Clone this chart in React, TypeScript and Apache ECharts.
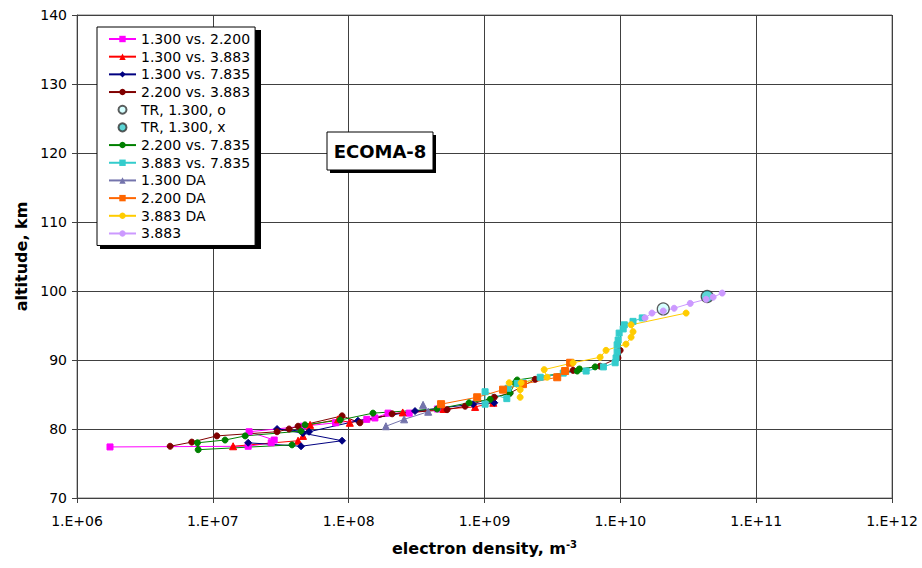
import React, { useEffect, useRef } from "react";
import * as echarts from "echarts";

// [electron density (m^-3), altitude (km)]
const s1300vs2200 = [
  [4.5e8, 82.9], [2.79e8, 82.3], [1.95e8, 82.3], [1.56e8, 81.6], [1.36e8, 81.4],
  [8.0e7, 80.9], [4.6e7, 80.4], [1.85e7, 79.6], [2.83e7, 78.4], [2.69e7, 78.0],
  [1.82e7, 77.5], [1.75e6, 77.4],
];
const s1300vs3883 = [
  [1.16e9, 83.8], [8.53e8, 83.2], [5.0e8, 82.9], [2.5e8, 82.4], [1.02e8, 80.9],
  [8.36e7, 81.4], [5.2e7, 80.6], [4.61e7, 79.0], [4.24e7, 78.3], [1.41e7, 77.5],
];
const s1300vs7835 = [
  [1.18e9, 83.8], [8.24e8, 83.6], [3.08e8, 82.6], [1.17e8, 81.2], [5.11e7, 79.6],
  [2.97e7, 80.0], [4.6e7, 79.4], [8.94e7, 78.3], [4.46e7, 77.5], [1.82e7, 78.0],
];
const s2200vs3883 = [
  [9.97e9, 91.4], [9.6e9, 90.3], [7.1e9, 89.1], [4.49e9, 88.5], [2.36e9, 87.2],
  [1.54e9, 85.2], [1.18e9, 84.6], [7.2e8, 83.3], [5.3e8, 82.8], [2.09e8, 82.2],
  [1.21e8, 80.9], [8.94e7, 81.9], [4.24e7, 80.4], [3.64e7, 80.0], [2.97e7, 79.6],
  [1.07e7, 79.0], [7.0e6, 78.1], [4.85e6, 77.5],
];
const trO = [[2.07e10, 97.4]];
const trX = [[4.36e10, 99.2]];
const s2200vs7835 = [
  [6.52e9, 89.0], [5.0e9, 88.7], [4.81e9, 88.4], [1.74e9, 87.1], [1.68e9, 86.7],
  [1.54e9, 85.2], [1.1e9, 84.3], [7.7e8, 83.8], [4.48e8, 82.9], [1.51e8, 82.3],
  [8.65e7, 81.3], [4.77e7, 80.6], [4.46e7, 79.7], [1.73e7, 79.0], [1.23e7, 78.4],
  [7.7e6, 78.0], [7.8e6, 77.0], [3.83e7, 77.7],
];
const s3883vs7835 = [
  [1.45e10, 96.1], [1.24e10, 95.6], [1.07e10, 95.1], [1.05e10, 94.5], [9.8e9, 93.9],
  [9.64e9, 92.9], [9.47e9, 92.2], [9.47e9, 91.2], [9.3e9, 90.3], [9.16e9, 89.6],
  [7.5e9, 89.0], [5.6e9, 88.4], [3.8e9, 88.1], [2.57e9, 87.5], [1.92e9, 86.7],
  [1.74e9, 86.6], [1.49e9, 85.9], [1.46e9, 84.4], [1.01e9, 85.4], [1.01e9, 83.6],
];
const s1300DA = [[1.88e8, 80.4], [2.56e8, 81.4], [3.85e8, 82.5], [3.53e8, 83.5]];
const s2200DA = [
  [4.27e9, 89.6], [3.92e9, 88.4], [3.43e9, 87.5], [1.92e9, 86.5], [1.37e9, 85.7],
  [8.83e8, 84.6], [4.79e8, 83.6],
];
const s3883DA = [
  [3.05e10, 96.8], [1.2e10, 95.1], [1.24e10, 94.1], [1.2e10, 93.3], [1.1e10, 92.3],
  [7.85e9, 91.4], [7.1e9, 90.4], [4.49e9, 89.6], [2.75e9, 88.6], [2.89e9, 87.5],
  [1.86e9, 86.7], [1.52e9, 86.7], [1.83e9, 85.7], [1.83e9, 84.6],
];
const s3883 = [
  [1.52e10, 96.1], [1.71e10, 96.8], [2.07e10, 97.1], [2.49e10, 97.5], [3.27e10, 98.2],
  [4.28e10, 98.8], [4.82e10, 99.1], [5.62e10, 99.7],
];

const seriesNames = [
  "1.300 vs. 2.200", "1.300 vs. 3.883", "1.300 vs. 7.835", "2.200 vs. 3.883",
  "TR, 1.300, o", "TR, 1.300, x", "2.200 vs. 7.835", "3.883 vs. 7.835",
  "1.300 DA", "2.200 DA", "3.883 DA", "3.883",
];

const FONT = "DejaVu Sans";

function lineSeries(name: string, data: number[][], color: string, symbol: string, size: number) {
  return {
    name,
    type: "line",
    data,
    symbol,
    symbolSize: size,
    showSymbol: true,
    itemStyle: { color, borderColor: color },
    lineStyle: { color, width: 1 },
    z: 2,
  };
}

function trSeries(name: string, data: number[][], fill: string) {
  return {
    name,
    type: "scatter",
    data,
    symbol: "circle",
    symbolSize: 12,
    itemStyle: { color: fill, borderColor: "#333", borderWidth: 1.2 },
    z: 2,
  };
}

export default function App() {
  const ref = useRef<HTMLDivElement>(null);
  useEffect(() => {
    if (!ref.current) return;
    const chart = echarts.init(ref.current, undefined, { renderer: "svg" });
    const option: any = {
      animation: false,
      backgroundColor: "#fff",
      grid: { left: 77, right: 30, top: 15, bottom: 70, show: true, borderColor: "#808080", borderWidth: 1 },
      xAxis: {
        type: "log",
        logBase: 10,
        min: 1e6,
        max: 1e12,
        name: "{a|electron density, m}{s|-3}",
        nameLocation: "middle",
        nameGap: 41,
        nameTextStyle: {
          rich: {
            a: { fontFamily: FONT, fontWeight: "bold", fontSize: 16, color: "#000" },
            s: { fontFamily: FONT, fontWeight: "bold", fontSize: 10, color: "#000", verticalAlign: "top", padding: [0, 0, 8, 0] },
          },
        },
        axisLine: { show: true, onZero: false, lineStyle: { color: "#404040", width: 1 } },
        axisTick: { show: true, inside: false, length: 5, lineStyle: { color: "#404040" } },
        minorTick: { show: false },
        axisLabel: {
          fontFamily: FONT,
          fontSize: 14,
          color: "#000",
          margin: 16,
          formatter: (v: number) => "1.E+" + String(Math.round(Math.log10(v))).padStart(2, "0"),
        },
        splitLine: { show: true, lineStyle: { color: "#404040", width: 1 } },
      },
      yAxis: {
        type: "value",
        min: 70,
        max: 140,
        interval: 10,
        name: "altitude, km",
        nameLocation: "middle",
        nameGap: 44,
        nameTextStyle: { fontFamily: FONT, fontWeight: "bold", fontSize: 16, color: "#000" },
        axisLine: { show: true, lineStyle: { color: "#404040", width: 1 } },
        axisTick: { show: true, inside: false, length: 5, lineStyle: { color: "#404040" } },
        axisLabel: { fontFamily: FONT, fontSize: 14, color: "#000", margin: 10 },
        splitLine: { show: true, lineStyle: { color: "#404040", width: 1 } },
      },
      legend: {
        orient: "vertical",
        left: 97,
        top: 27,
        padding: [5, 5, 5, 11],
        itemWidth: 27,
        itemHeight: 8,
        itemGap: 3.68,
        backgroundColor: "#fff",
        borderColor: "#000",
        borderWidth: 1,
        data: seriesNames,
        textStyle: { fontFamily: FONT, fontSize: 14, color: "#000", lineHeight: 14 },
      },
      graphic: [
        { type: "rect", z: 3, silent: true, shape: { x: 100, y: 30, width: 161, height: 219 }, style: { fill: "#000" } },
        { type: "rect", z: 10, silent: true, shape: { x: 330, y: 135, width: 106, height: 38 }, style: { fill: "#000" } },
        { type: "rect", z: 11, silent: true, shape: { x: 327, y: 132, width: 106, height: 38 }, style: { fill: "#fff", stroke: "#000", lineWidth: 1 } },
        {
          type: "text", z: 12, silent: true, x: 380, y: 151,
          style: { text: "ECOMA-8", fontFamily: FONT, fontWeight: "bold", fontSize: 18, fill: "#000", align: "center", verticalAlign: "middle" },
        },
      ],
      series: [
        lineSeries(seriesNames[0], s1300vs2200, "#FF00FF", "rect", 6),
        lineSeries(seriesNames[1], s1300vs3883, "#FF0000", "triangle", 7),
        lineSeries(seriesNames[2], s1300vs7835, "#000080", "diamond", 7),
        lineSeries(seriesNames[3], s2200vs3883, "#800000", "circle", 6),
        trSeries(seriesNames[4], trO, "#CCFFFF"),
        trSeries(seriesNames[5], trX, "#33CCCC"),
        lineSeries(seriesNames[6], s2200vs7835, "#008000", "circle", 6),
        lineSeries(seriesNames[7], s3883vs7835, "#33CCCC", "rect", 6),
        lineSeries(seriesNames[8], s1300DA, "#7474AC", "triangle", 7),
        lineSeries(seriesNames[9], s2200DA, "#FF6600", "rect", 7),
        lineSeries(seriesNames[10], s3883DA, "#FFCC00", "circle", 6),
        lineSeries(seriesNames[11], s3883, "#CC99FF", "circle", 6),
      ],
    };
    chart.setOption(option);
    return () => chart.dispose();
  }, []);
  return (
    <div
      ref={ref}
      style={{ position: "fixed", left: 0, top: 0, width: 922, height: 568, background: "#fff" }}
    />
  );
}
